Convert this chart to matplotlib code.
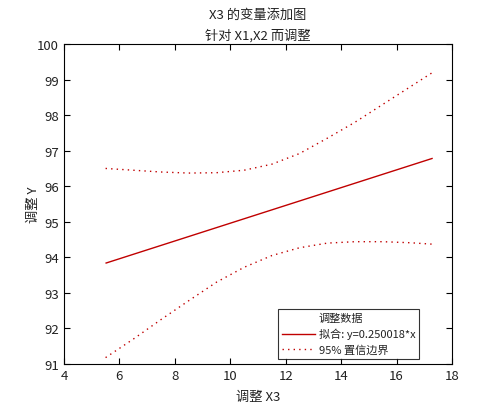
import matplotlib
matplotlib.use('Agg')
import matplotlib.pyplot as plt
from matplotlib.lines import Line2D

plt.rcParams['font.family'] = ['Noto Sans CJK SC', 'DejaVu Sans']

# fitted line end points (adjusted X3)
fit_x = [5.52, 17.28]
slope = 0.250018
fit_y = [93.84, 96.78]

# 95% confidence bounds
bound_x = [5.5, 6.5, 7.5, 8.5, 9.5, 10.5, 11.5, 12.5, 13.5, 14.5, 15.5, 16.5, 17.3]
upper = [96.50, 96.45, 96.40, 96.37, 96.38, 96.45, 96.62, 96.92, 97.35, 97.80, 98.30, 98.80, 99.20]
lower = [91.18, 91.70, 92.25, 92.78, 93.30, 93.72, 94.05, 94.27, 94.40, 94.44, 94.44, 94.41, 94.37]

red = '#c00000'
txt = '#222222'

fig = plt.figure(figsize=(4.94, 4.10), dpi=100)
ax = fig.add_axes([64/494, 1 - 365/410, (452-64)/494, (365-45)/410])

ax.plot(fit_x, fit_y, color=red, lw=1.0)
ax.plot(bound_x, upper, color=red, lw=1.0, linestyle=(0, (1, 3)))
ax.plot(bound_x, lower, color=red, lw=1.0, linestyle=(0, (1, 3)))

ax.set_xlim(4, 18)
ax.set_ylim(91, 100)
ax.set_xticks(range(4, 19, 2))
ax.set_yticks(range(91, 101))
ax.tick_params(direction='in', top=True, right=True, labelsize=9.5, length=4,
               labelcolor=txt)
for s in ax.spines.values():
    s.set_linewidth(0.8)

ax.set_title('X3 的变量添加图\n针对 X1,X2 而调整', fontsize=9.5, linespacing=1.65,
             pad=4, color=txt)
ax.set_xlabel('调整 X3', fontsize=9.5, labelpad=6, color=txt)
ax.set_ylabel('调整 Y', fontsize=9.5, labelpad=-2, color=txt)

handles = [Line2D([], [], linestyle='none'),
           Line2D([], [], color=red, lw=1.0),
           Line2D([], [], color=red, lw=1.0, linestyle=(0, (1, 3)))]
labels = ['调整数据', '拟合: y=%g*x' % slope, '95% 置信边界']
leg = ax.legend(handles, labels, loc='lower right', fontsize=8, frameon=True,
                fancybox=False, edgecolor='black', handlelength=3.0,
                handletextpad=0.3, borderpad=0.35, labelspacing=0.45,
                borderaxespad=0, bbox_to_anchor=(0.915, 0.016))
leg.get_frame().set_linewidth(0.8)
for t in leg.get_texts():
    t.set_color(txt)

plt.savefig('out.png', dpi=100)
